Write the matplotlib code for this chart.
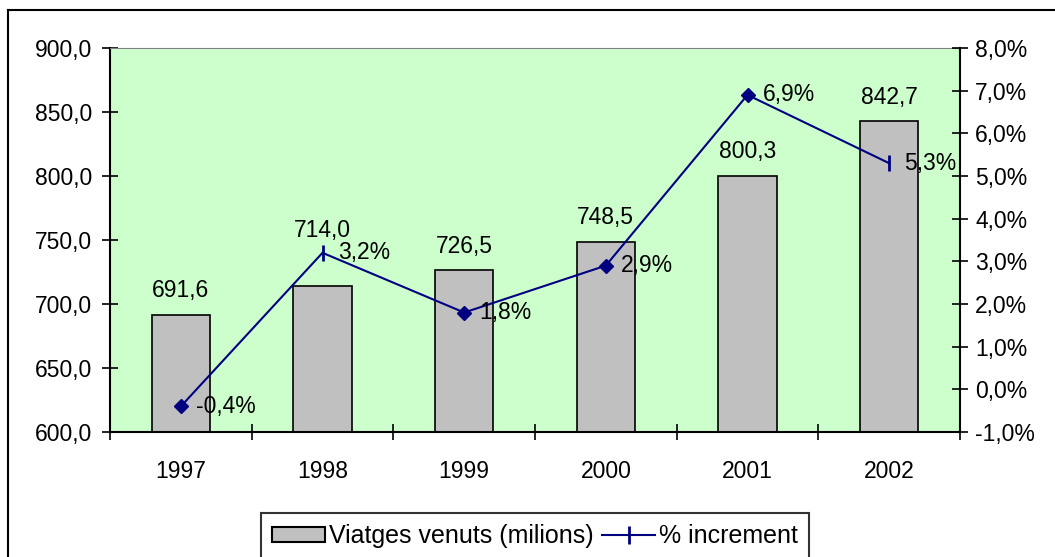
import matplotlib.pyplot as plt
from matplotlib.lines import Line2D
from matplotlib.patches import Patch
from matplotlib.ticker import FuncFormatter

plt.rcParams['font.family'] = ['Liberation Sans', 'DejaVu Sans']

years = ['1997', '1998', '1999', '2000', '2001', '2002']
trips = [691.6, 714.0, 726.5, 748.5, 800.3, 842.7]
pct_increment = [-0.4, 3.2, 1.8, 2.9, 6.9, 5.3]
markers = ['D', '|', 'D', 'D', 'D', '|']

W, H = 1055, 557
fig = plt.figure(figsize=(W / 100, H / 100), dpi=100)
fs = 16.5
navy = '#000080'

# outer chart frame (only left/top visible in the crop)
fig.add_artist(Line2D([8 / W, 8 / W], [-0.1, 1 - 10 / H], color='black', lw=1.5))
fig.add_artist(Line2D([8 / W, 1.1], [1 - 10 / H, 1 - 10 / H], color='black', lw=1.5))

ax = fig.add_axes([110 / W, 1 - 432 / H, 850 / W, 384 / H])
ax.set_facecolor('#CCFFCC')
x = list(range(len(years)))

ax.bar(x, trips, width=0.41, color='#C0C0C0', edgecolor='black', linewidth=1.2, zorder=2)
for xi, v in zip(x, trips):
    # the 1998 label was lifted above the line marker in the original
    dy = 32 if years[xi] == '1998' else 9
    ax.annotate(f'{v:.1f}'.replace('.', ','), (xi, v), xytext=(0, dy), textcoords='offset points',
                ha='center', va='bottom', fontsize=fs)

ax.set_xlim(-0.5, len(years) - 0.5)
ax.set_ylim(600, 900)
ax.set_yticks(range(600, 901, 50))
ax.yaxis.set_major_formatter(FuncFormatter(lambda v, p: f'{v:.1f}'.replace('.', ',')))
ax.set_xticks([i + 0.5 for i in range(-1, len(years))])
ax.set_xticklabels([])
ax.set_xticks(x, minor=True)
ax.set_xticklabels(years, minor=True)
ax.tick_params(axis='x', which='major', direction='inout', length=12, width=1.2)
ax.tick_params(axis='x', which='minor', length=0, pad=20, labelsize=fs)
ax.tick_params(axis='y', direction='inout', length=12, width=1.2, labelsize=fs, pad=7)
ax.spines['left'].set_linewidth(1.5)
ax.spines['bottom'].set_linewidth(1.5)
ax.spines['top'].set_color('#808080')
ax.spines['right'].set_visible(False)

ax2 = ax.twinx()
ax2.set_ylim(-1, 8)
ax2.set_yticks(range(-1, 9))
ax2.yaxis.set_major_formatter(FuncFormatter(lambda v, p: f'{v:.1f}%'.replace('.', ',')))
ax2.tick_params(axis='y', direction='inout', length=12, width=1.2, labelsize=fs, pad=5)
ax2.spines['right'].set_linewidth(1.5)
ax2.spines['top'].set_visible(False)
ax2.spines['left'].set_visible(False)
ax2.spines['bottom'].set_visible(False)

ax2.plot(x, pct_increment, color=navy, lw=1.5, zorder=3)
for xi, v, m in zip(x, pct_increment, markers):
    if m == 'D':
        ax2.plot(xi, v, marker='D', ms=7, color=navy, zorder=4)
    else:
        ax2.plot(xi, v, marker='|', ms=12, mew=2, color=navy, zorder=4)
    ax2.annotate(f'{v:.1f}%'.replace('.', ','), (xi, v), xytext=(11, 0), textcoords='offset points',
                 ha='left', va='center', fontsize=fs, zorder=5)

handles = [Patch(facecolor='#C0C0C0', edgecolor='black', linewidth=1.5),
           Line2D([], [], color=navy, lw=1.5, marker='|', ms=13, mew=2)]
leg = fig.legend(handles, ['Viatges venuts (milions)', '% increment'], loc='upper center',
                 bbox_to_anchor=(535 / W, 1 - 513 / H), ncol=2, fontsize=18, frameon=True,
                 fancybox=False, edgecolor='black', handlelength=2.1, handleheight=0.6,
                 handletextpad=0.16, columnspacing=0.36, borderpad=0.45, borderaxespad=0)
leg.get_frame().set_linewidth(1.5)

fig.savefig('out.png', dpi=100)
